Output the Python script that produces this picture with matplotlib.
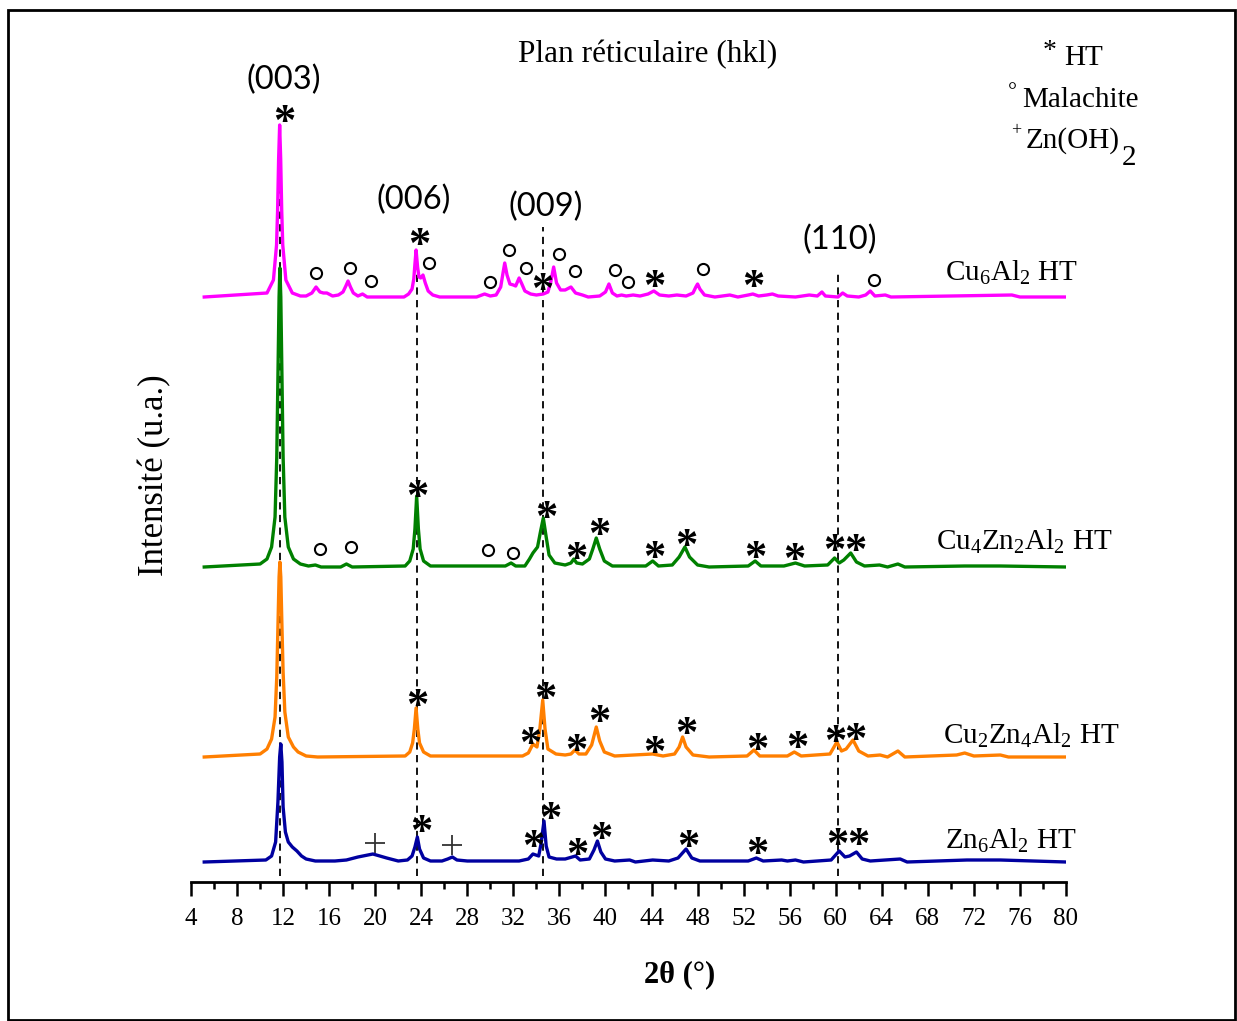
import matplotlib
matplotlib.use("Agg")
from matplotlib import pyplot as plt
from matplotlib.patches import Rectangle
from matplotlib.ticker import MultipleLocator
from matplotlib.textpath import TextPath
from matplotlib.font_manager import FontProperties
from matplotlib.transforms import offset_copy

plt.rcParams['font.family'] = ['Liberation Serif', 'DejaVu Sans']
plt.rcParams['mathtext.fontset'] = 'custom'
plt.rcParams['mathtext.rm'] = 'Liberation Serif'
plt.rcParams['mathtext.it'] = 'Liberation Serif:italic'
plt.rcParams['mathtext.bf'] = 'Liberation Serif:bold'

W, H = 1237, 1021

# --- patterns (2theta in deg, intensity in a.u. above each baseline)
cu6_tt = [5.15, 10.6, 11.16, 11.43, 11.52, 11.61, 11.70, 11.79, 11.88, 11.97, 12.24, 12.8, 13.5,
          14.0, 14.5, 14.86, 15.2, 15.5, 15.8, 16.3, 16.8, 17.2, 17.45, 17.64, 17.85, 18.1, 18.5,
          18.9, 19.3, 22.5, 22.9, 23.2, 23.35, 23.45, 23.55, 23.68, 23.8, 23.95, 24.15, 24.35, 24.6,
          25.0, 25.6, 28.8, 29.5, 30.0, 30.5, 30.9, 31.1, 31.25, 31.45, 31.7, 32.0, 32.2, 32.5, 32.7,
          33.0, 33.5, 34.0, 34.6, 35.0, 35.25, 35.5, 35.75, 36.1, 36.5, 37.0, 37.4, 38.0, 38.5, 39.5,
          40.0, 40.3, 40.6, 41.0, 41.4, 41.8, 42.4, 43.0, 43.7, 44.2, 44.7, 45.5, 46.2, 47.0, 47.6,
          47.85, 48.0, 48.2, 48.6, 49.5, 50.8, 51.5, 52.4, 52.8, 53.3, 54.0, 54.5, 55.0, 56.5, 57.7,
          58.4, 58.8, 59.1, 60.2, 60.6, 61.0, 62.0, 62.6, 63.0, 63.4, 64.3, 64.8, 75.3, 76.0, 80.0]
cu6_i = [0, 4, 17, 52, 86, 138, 172, 138, 86, 52, 17, 4, 1,
         1, 4, 10, 5, 4, 4, 1, 2, 5, 11, 16, 10, 4, 1,
         3, 0, 0, 3, 8, 18, 33, 47, 30, 20, 19, 22, 14, 6,
         2, 0, 0, 3, 1, 2, 10, 24, 34, 22, 13, 12, 11, 19, 14,
         6, 3, 2, 3, 5, 15, 30, 14, 7, 7, 10, 4, 2, 0, 1,
         5, 13, 4, 1, 2, 1, 2, 1, 3, 6, 2, 1, 2, 1, 4,
         10, 13, 8, 2, 0, 2, 0, 2, 3, 1, 2, 3, 1, 0, 2,
         1, 5, 1, 0, 4, 1, 0, 2, 6, 1, 2, 0, 2, 0, 0]

cu4_tt = [5.15, 10.0, 10.6, 11.0, 11.3, 11.45, 11.55, 11.65, 11.72, 11.8, 11.9, 12.0, 12.15, 12.45,
          12.9, 13.5, 14.2, 14.8, 15.3, 17.0, 17.5, 18.0, 22.6, 23.0, 23.3, 23.45, 23.6, 23.75, 23.9,
          24.2, 24.8, 29.4, 31.3, 31.8, 32.2, 33.0, 33.4, 33.7, 34.1, 34.35, 34.6, 34.85, 35.1, 35.6,
          36.5, 37.0, 37.25, 37.5, 38.0, 38.6, 38.9, 39.2, 39.5, 39.9, 40.6, 43.5, 44.1, 44.6, 45.8,
          46.4, 46.9, 47.3, 48.0, 49.0, 52.4, 53.0, 53.5, 55.5, 56.5, 57.3, 59.3, 59.9, 60.3, 60.7,
          61.3, 61.8, 62.5, 63.8, 64.5, 65.4, 66.0, 71.2, 74.3, 80.0]
cu4_i = [0, 3, 8, 20, 50, 110, 190, 270, 299, 270, 190, 110, 50, 20,
         8, 3, 1, 2, 0, 0, 3, 0, 1, 6, 18, 38, 71, 38, 18,
         6, 1, 1, 1, 4, 1, 1, 8, 14, 20, 35, 49, 30, 12, 4,
         2, 4, 8, 4, 3, 8, 18, 29, 18, 6, 1, 1, 6, 1, 2,
         10, 20, 10, 2, 0, 1, 6, 1, 1, 4, 1, 2, 9, 4, 7,
         14, 5, 1, 2, 0, 3, 0, 1, 1, 0]

cu2_tt = [5.15, 10.0, 10.6, 11.0, 11.3, 11.45, 11.55, 11.65, 11.72, 11.8, 11.9, 12.0, 12.15, 12.45,
          12.9, 13.3, 14.0, 15.0, 22.6, 23.0, 23.25, 23.4, 23.55, 23.7, 23.85, 24.2, 24.8, 26.8,
          27.8, 32.8, 33.3, 33.7, 34.05, 34.3, 34.55, 34.75, 35.0, 35.7, 36.5, 37.0, 37.35, 37.7,
          38.3, 38.8, 39.2, 39.5, 39.9, 40.8, 44.1, 45.0, 46.0, 46.4, 46.7, 47.0, 47.6, 49.0, 52.3,
          52.9, 53.4, 55.8, 56.4, 57.0, 59.5, 60.1, 60.5, 60.9, 61.5, 62.0, 62.8, 63.85, 64.5, 65.4,
          66.0, 70.5, 71.2, 72.0, 74.3, 75.0, 80.0]
cu2_i = [0, 3, 8, 18, 40, 80, 130, 180, 195, 180, 130, 85, 45, 20,
         10, 5, 1, 0, 1, 5, 14, 28, 49, 28, 14, 5, 1, 1,
         1, 1, 4, 13, 10, 28, 57, 28, 8, 3, 2, 3, 7, 3,
         3, 12, 30, 16, 5, 1, 3, 1, 3, 10, 20, 10, 2, 0, 1,
         7, 1, 1, 5, 1, 3, 15, 6, 8, 17, 6, 1, 2, 0, 6,
         0, 2, 4, 1, 2, 0, 0]

zn6_tt = [5.15, 10.5, 11.0, 11.35, 11.55, 11.7, 11.8, 11.9, 12.0, 12.2, 12.45, 12.8, 13.2, 13.6,
          14.0, 14.8, 16.5, 17.5, 18.5, 19.8, 21.0, 22.0, 22.8, 23.2, 23.45, 23.66, 23.85, 24.2,
          24.8, 25.8, 26.3, 26.7, 27.1, 28.0, 32.5, 33.3, 33.7, 34.2, 34.4, 34.66, 34.85, 35.1,
          35.75, 36.5, 37.4, 37.8, 38.6, 39.0, 39.3, 39.6, 40.0, 40.8, 42.1, 42.6, 44.1, 45.5,
          46.3, 47.0, 47.5, 48.2, 52.4, 53.1, 53.7, 55.3, 55.8, 56.5, 57.2, 59.6, 60.3, 60.8, 61.2,
          61.8, 62.3, 63.0, 65.6, 66.2, 71.4, 74.3, 80.0]
zn6_i = [0, 2, 6, 20, 60, 105, 118, 100, 55, 30, 20, 15, 11, 6,
         3, 1, 1, 2, 5, 8, 4, 1, 2, 6, 15, 25, 13, 4,
         1, 1, 3, 5, 2, 1, 1, 3, 8, 6, 18, 41, 16, 5,
         3, 3, 6, 2, 3, 12, 21, 10, 3, 1, 2, 0, 2, 1,
         4, 13, 4, 1, 1, 4, 1, 2, 1, 2, 0, 2, 11, 5, 6,
         10, 3, 1, 3, 0, 2, 2, 0]

offsets = [585, 315, 125, 20]
colors = ['#ff00ff', '#008000', '#ff7f00', '#0000a0']
sample_labels = [r'Cu$_6$Al$_2$ HT', r'Cu$_4$Zn$_2$Al$_2$ HT', r'Cu$_2$Zn$_4$Al$_2$ HT', r'Zn$_6$Al$_2$ HT']
label_pos = [(69.49, 609), (68.71, 340), (69.32, 146), (69.49, 41)]

# reflections (hkl) and dashed guide lines
hkl_labels = ['(003)', '(006)', '(009)', '(110)']
hkl_text_pos = [(12.08, 802), (23.37, 682), (34.84, 675), (60.37, 642)]
hkl_lines = [(11.73, 725), (23.66, 629), (34.6, 655), (60.17, 612)]

# phase markers
ht_marks = [(12.08, 769), (23.80, 646), (34.49, 601), (44.22, 604), (52.81, 604),
            (23.63, 394), (34.84, 373), (37.44, 332), (39.44, 356), (44.22, 333), (47.0, 345),
            (52.99, 333), (56.38, 331), (59.90, 340), (61.72, 340),
            (23.63, 185), (34.75, 192), (33.45, 147), (37.44, 140), (39.44, 169), (44.22, 138),
            (47.0, 157), (53.16, 141), (56.64, 143), (59.98, 149), (61.72, 151),
            (23.98, 59), (35.18, 72), (33.71, 44), (37.53, 36), (39.61, 52), (47.17, 44),
            (53.16, 37), (60.16, 46), (61.98, 46)]
malachite_tt = [14.86, 17.81, 19.63, 24.67, 29.97, 31.62, 33.10, 35.96, 37.35, 40.83, 41.96, 48.47, 63.32,
                15.20, 17.90, 29.80, 31.97]
malachite_y = [609, 614, 601, 619, 600, 632, 614, 628, 611, 612, 600, 613, 602,
               333, 335, 332, 329]
znoh_tt = [19.98, 26.67]
znoh_y = [39, 37]

fig = plt.figure(figsize=(W / 100, H / 100), dpi=100)
ax = fig.add_axes([191 / W, 1 - 882 / H, 875 / W, 872 / H])

series = [(cu6_tt, cu6_i), (cu4_tt, cu4_i), (cu2_tt, cu2_i), (zn6_tt, zn6_i)]
for (tt, inten), off, c in zip(series, offsets, colors):
    ax.plot(tt, [v + off for v in inten], color=c, lw=2.4, solid_joinstyle='round')

for (x, top) in hkl_lines:
    ax.plot([x, x], [6, top], color='black', lw=1.3, ls=(0, (4, 3)), zorder=1)

for lab, (x, y) in zip(hkl_labels, hkl_text_pos):
    ax.text(x, y, lab, ha='center', va='center', fontsize=23.5, family=['Lato', 'DejaVu Sans'])

for lab, (x, y) in zip(sample_labels, label_pos):
    ax.text(x, y, lab, ha='left', va='center', fontsize=21, clip_on=False)

# bold asterisk glyphs, centred on their ink
star_fs = 32
star_prop = FontProperties(family='Liberation Serif', weight='bold', size=star_fs)
ext = TextPath((0, 0), '*', prop=star_prop).get_extents()
star_tr = offset_copy(ax.transData, fig=fig, x=-(ext.x0 + ext.x1) / 2, y=-(ext.y0 + ext.y1) / 2,
                      units='points')
for (x, y) in ht_marks:
    ax.text(x, y, '*', ha='left', va='baseline', fontproperties=star_prop, transform=star_tr)

ax.plot(malachite_tt, malachite_y, ls='none', marker='o', ms=8, mfc='none', mec='black', mew=1.5)
ax.plot(znoh_tt, znoh_y, ls='none', marker='+', ms=14, mec='#333333', mew=1.3)

ax.set_xlim(4, 80)
ax.set_ylim(0, 872)
for s in ['left', 'right', 'top']:
    ax.spines[s].set_visible(False)
ax.spines['bottom'].set_linewidth(2.0)
ax.set_yticks([])
ax.xaxis.set_major_locator(MultipleLocator(4))
ax.xaxis.set_minor_locator(MultipleLocator(2))
ax.tick_params(axis='x', which='major', length=10, width=1.8, direction='out', labelsize=18, pad=9)
ax.tick_params(axis='x', which='minor', length=5, width=1.8, direction='out')
ax.patch.set_alpha(0)

# titles and legend text (figure pixels)
def ftext(x, y, s, **kw):
    fig.text(x / W, 1 - y / H, s, **kw)

ftext(648, 55, 'Plan réticulaire (hkl)', ha='center', va='center', fontsize=22.5)
ftext(1050, 52, '*', ha='center', va='center', fontsize=20)
ftext(1064, 58, 'HT', ha='left', va='center', fontsize=21)
ftext(1012, 93, '°', ha='center', va='center', fontsize=16)
ftext(1022, 100, 'Malachite', ha='left', va='center', fontsize=21)
ftext(1016, 131, '+', ha='center', va='center', fontsize=13)
ftext(1026, 141, 'Zn(OH)', ha='left', va='center', fontsize=21)
ftext(1122, 158, '2', ha='left', va='center', fontsize=21)
ftext(680, 975, '2θ (°)', ha='center', va='center', fontsize=22, fontweight='bold')
ftext(155, 475, 'Intensité (u.a.)', ha='center', va='center', fontsize=25, rotation=90)

fig.add_artist(Rectangle((8 / W, 1 - 1020 / H), 1227 / W, 1010 / H, transform=fig.transFigure,
                         fill=False, lw=2, edgecolor='black'))

fig.savefig('out.png', dpi=100)
